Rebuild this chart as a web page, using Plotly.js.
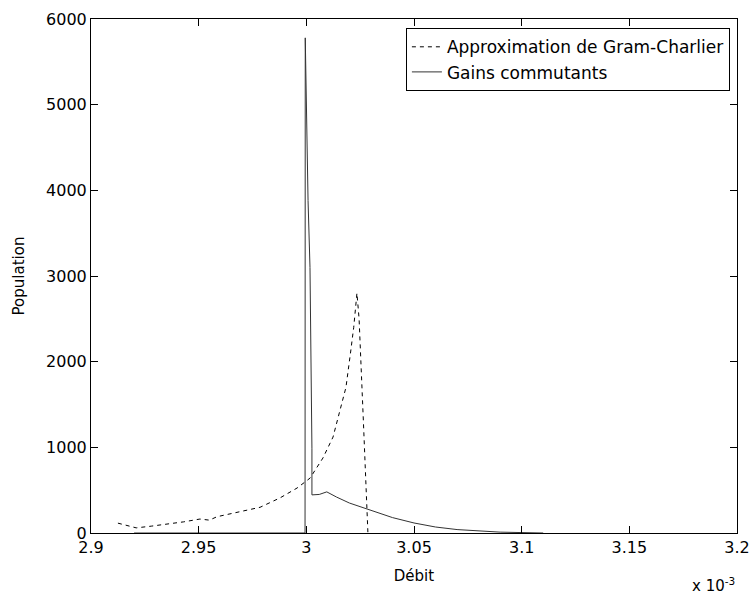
<!DOCTYPE html>
<html>
<head>
<meta charset="utf-8">
<script src="https://cdn.plot.ly/plotly-3.0.1.min.js"></script>
<style>html,body{margin:0;padding:0;background:#fff;}#chart{width:756px;height:595px;}</style>
</head>
<body>
<div id="chart"></div>
<script>
// Débit values are in units of 10^-3
const gramCharlierX = [2.9125, 2.921, 2.928, 2.935, 2.943, 2.9506, 2.955, 2.9585, 2.964, 2.969, 2.9785, 2.9878, 2.9957, 3.0017, 3.0077, 3.0124, 3.0156, 3.0184, 3.0205, 3.0220, 3.0235, 3.0245, 3.0265, 3.0286];
const gramCharlierY = [115, 60, 80, 100, 130, 163, 150, 190, 220, 245, 300, 410, 525, 640, 875, 1120, 1420, 1700, 2100, 2400, 2800, 2500, 1300, 0];

const gainsX = [2.920, 2.960, 2.9994, 2.9995, 3.0008, 3.0017, 3.0022, 3.0026, 3.0026, 3.0060, 3.0095, 3.0140, 3.0200, 3.0286, 3.0400, 3.0500, 3.0600, 3.0700, 3.0800, 3.0900, 3.1000, 3.1100];
const gainsY = [0, 0, 0, 5780, 3880, 3100, 2080, 990, 445, 450, 480, 420, 350, 280, 180, 117, 70, 40, 22, 10, 5, 0];

const xTickVals = [2.9, 2.95, 3.0, 3.05, 3.1, 3.15, 3.2];
const xTickLabels = ["2.9", "2.95", "3", "3.05", "3.1", "3.15", "3.2"];
const yTickVals = [0, 1000, 2000, 3000, 4000, 5000, 6000];
const yTickLabels = ["0", "1000", "2000", "3000", "4000", "5000", "6000"];

const seriesNames = ["Approximation de Gram-Charlier", "Gains commutants"];

const font = "DejaVu Sans, Liberation Sans, Arial, sans-serif";

const traces = [
  {x: gramCharlierX, y: gramCharlierY, mode: "lines", name: seriesNames[0],
   line: {color: "#000", width: 1, dash: "4px,4px"}},
  {x: gainsX, y: gainsY, mode: "lines", name: seriesNames[1],
   line: {color: "#333", width: 1}}
];

const axisCommon = {
  showline: true, linecolor: "#000", linewidth: 1, mirror: "ticks",
  ticks: "inside", ticklen: 7, tickcolor: "#000", tickwidth: 1,
  showgrid: false, zeroline: false,
  tickfont: {family: font, size: 16, color: "#000"}
};

const layout = {
  width: 756, height: 595,
  margin: {l: 91, r: 19, t: 19, b: 62},
  paper_bgcolor: "#fff", plot_bgcolor: "#fff",
  showlegend: true,
  legend: {
    x: 0.989, y: 0.982, xanchor: "right", yanchor: "top",
    bgcolor: "#fff", bordercolor: "#000", borderwidth: 1,
    font: {family: font, size: 17, color: "#000"},
    tracegroupgap: 0
  },
  xaxis: Object.assign({}, axisCommon, {
    range: [2.9, 3.2], tickmode: "array", tickvals: xTickVals, ticktext: xTickLabels,
    title: {text: "Débit", font: {family: font, size: 15, color: "#000"}, standoff: 14}
  }),
  yaxis: Object.assign({}, axisCommon, {
    range: [0, 6000], tickmode: "array", tickvals: yTickVals, ticktext: yTickLabels,
    title: {text: "Population", font: {family: font, size: 15, color: "#000"}, standoff: 17}
  }),
  annotations: [{
    xref: "paper", yref: "paper", x: 1.0, y: 0, xanchor: "right", yanchor: "top",
    yshift: -40, showarrow: false,
    text: "x 10<sup>-3</sup>", font: {family: font, size: 15, color: "#000"}
  }]
};

Plotly.newPlot("chart", traces, layout, {displayModeBar: false, staticPlot: true});
</script>
</body>
</html>
